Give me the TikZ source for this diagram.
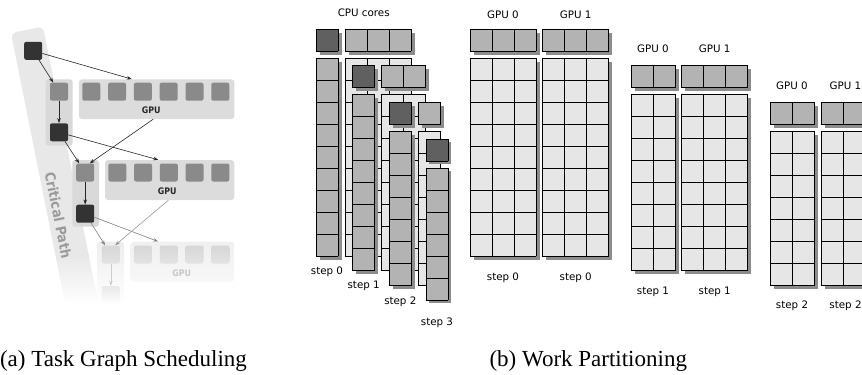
\documentclass[tikz,border=0pt]{standalone}
\usepackage{fontspec}
\usepackage{graphicx}
\usetikzlibrary{calc,arrows.meta}
\newfontfamily\lblfont{DejaVu Sans}
\newfontfamily\capfont{Liberation Serif}
\newcommand\mylblf{\lblfont\fontsize{10.3bp}{12bp}\selectfont}
\newcommand\mycapf{\capfont\fontsize{23bp}{27bp}\selectfont}
\newcommand\mycpf{\lblfont\bfseries\fontsize{14bp}{16bp}\selectfont}
\newcommand\myglf{\lblfont\bfseries\fontsize{9bp}{10bp}\selectfont}
\definecolor{bandc}{HTML}{E8E8E8}
\definecolor{grpc}{HTML}{D9D9D9}
\definecolor{gboxc}{HTML}{DCDCDC}
\definecolor{msqc}{HTML}{8A8A8A}
\definecolor{dsqc}{HTML}{333333}
\definecolor{cellm}{HTML}{B3B3B3}
\definecolor{celld}{HTML}{606060}
\definecolor{celll}{HTML}{E6E6E6}
\definecolor{shadc}{HTML}{8C8C8C}
\definecolor{cptext}{HTML}{9A9A9A}
\pgfdeclareverticalshading{bandshade}{100bp}{color(0bp)=(white); color(25bp)=(white); color(34bp)=(bandc); color(100bp)=(bandc)}
\newcommand\cellblk[6]{%
  \ifnum#6=1\relax
    \fill[shadc] ({#1+3.5},{#2+3.5}) rectangle ({#1+3.5+#3*22},{#2+3.5+#4*22});
  \fi
  \fill[#5] (#1,#2) rectangle ({#1+#3*22},{#2+#4*22});
  \foreach \ci in {0,...,#3} {\draw[gridln] ({#1+\ci*22},#2) -- ({#1+\ci*22},{#2+#4*22});}
  \foreach \cj in {0,...,#4} {\draw[gridln] (#1,{#2+\cj*22}) -- ({#1+#3*22},{#2+\cj*22});}
}
\begin{document}
\begin{tikzpicture}[x=1bp,y=-1bp,
  gridln/.style={line width=0.9bp, line cap=rect, draw=black},
  sqb/.style={minimum size=18bp, inner sep=0, rounded corners=2bp, draw=none},
  dsq/.style={sqb, fill=dsqc},
  msq/.style={sqb, fill=msqc},
  grp/.style={fill=grpc, rounded corners=3bp, inner sep=0, draw=none},
  gbox/.style={fill=gboxc, rounded corners=3bp, inner sep=0, draw=none},
  conn/.style={-{Stealth[length=5bp,width=3.6bp]}, line width=0.6bp, draw=black!85},
  fconn/.style={conn, draw=black!50},
  ffconn/.style={conn, draw=black!20},
  lbl/.style={font=\mylblf, inner sep=0, anchor=base},
  glbl/.style={font=\myglf, inner sep=0, anchor=base, text=black!85},
  caplbl/.style={font=\mycapf, inner sep=0, anchor=base}]
\useasboundingbox (0,0) rectangle (862,374);

% ---------- (a) task graph ----------
\shade[shading=bandshade, rounded corners=5bp] (65.4,305) -- (11,33) -- (43,26.6) -- (98.7,305) -- cycle;
\node[rotate=-78.7, text=cptext, font=\mycpf, inner sep=0] (cp) at (58.3,215) {\scalebox{0.9}[1]{Critical Path}};

\node[dsq] (t0) at (33.2,50.8) {};
\node[grp, minimum width=27bp, minimum height=66.4bp] (grp1) at (59.2,112.5) {};
\node[msq] (m1) at (59,91.7) {};
\node[dsq] (d1) at (59,132.3) {};
\node[gbox, minimum width=155.3bp, minimum height=39.7bp] (gpu1) at (156.65,99.15) {};
\foreach \i in {0,...,5} {\node[msq] (s1\i) at ({91.3+25.8*\i},91.7) {};}
\node[glbl] (gl1) at (151.2,113.5) {\scalebox{0.88}[1]{GPU}};

\node[grp, minimum width=26.7bp, minimum height=66.7bp] (grp2) at (85.65,193.35) {};
\node[msq] (m2) at (85.2,172.5) {};
\node[dsq] (d2) at (85.2,213.7) {};
\node[gbox, minimum width=129.3bp, minimum height=40bp] (gpu2) at (169.65,180) {};
\foreach \i in {0,...,4} {\node[msq] (s2\i) at ({117.3+25.75*\i},172.5) {};}
\node[glbl] (gl2) at (167.3,194.5) {\scalebox{0.88}[1]{GPU}};

\node[rounded corners=3bp, inner sep=0, top color=black!7, bottom color=white, minimum width=26.7bp, minimum height=62bp] (grp3) at (110.65,272.7) {};
\node[rounded corners=3bp, inner sep=0, top color=black!6, bottom color=black!3, minimum width=103.6bp, minimum height=40bp] (gpu3) at (182.5,261.7) {};
\node[sqb, top color=black!16, bottom color=black!11] (m3) at (110.85,254.5) {};
\foreach \i in {0,...,3} {\node[sqb, top color=black!16, bottom color=black!11] (s3\i) at ({143+25.77*\i},254.5) {};}
\node[glbl, text=black!22] (gl3) at (181.7,276) {\scalebox{0.88}[1]{GPU}};
\node[sqb, top color=black!9, bottom color=white] (m4) at (110.85,295) {};

\coordinate (g1top) at ($(gpu1.north west)!0.34!(gpu1.north east)$);
\coordinate (g2top) at ($(gpu2.north west)!0.412!(gpu2.north east)$);
\coordinate (g3top) at ($(gpu3.north west)!0.266!(gpu3.north east)$);
\coordinate (g1bot) at ($(gpu1.south west)!0.478!(gpu1.south east)$);
\coordinate (g2bot) at ($(gpu2.south west)!0.49!(gpu2.south east)$);
\coordinate (m2in) at ($(m2.north west)!0.75!(m2.north east)$);
\coordinate (m3in) at ($(m3.north west)!0.73!(m3.north east)$);
\draw[conn] (t0) -- (g1top);
\draw[conn] (t0) -- (m1);
\draw[conn] (m1) -- (d1);
\draw[conn] (d1) -- (g2top);
\draw[conn] (d1) -- (m2);
\draw[conn] (g1bot) -- (m2in);
\draw[conn] (m2) -- (d2);
\draw[fconn] (d2) -- (g3top);
\draw[fconn] (d2) -- (m3);
\draw[fconn, draw=black!40] (g2bot) -- (m3in);
\draw[ffconn] (m3) -- (m4);

% ---------- (b) CPU cores ----------
\node[lbl] (cpul) at (363.7,16.3) {CPU cores};
\cellblk{316}{29}{1}{1}{celld}{1}
\cellblk{345}{29}{3}{1}{cellm}{1}
\cellblk{316}{58}{1}{9}{cellm}{1}
\cellblk{345}{58}{3}{9}{celll}{0}
\cellblk{352.65}{65.65}{1}{1}{celld}{1}
\cellblk{381.65}{65.65}{2}{1}{cellm}{1}
\cellblk{352.65}{94.65}{1}{8}{cellm}{1}
\cellblk{381.65}{94.65}{2}{8}{celll}{0}
\cellblk{389.3}{102.3}{1}{1}{celld}{1}
\cellblk{418.3}{102.3}{1}{1}{cellm}{1}
\cellblk{389.3}{131.3}{1}{7}{cellm}{1}
\cellblk{418.3}{131.3}{1}{7}{celll}{0}
\cellblk{425.95}{138.95}{1}{1}{celld}{1}
\cellblk{425.95}{167.95}{1}{6}{cellm}{1}
\node[lbl] (cs0) at (327,274) {step 0};
\node[lbl] (cs1) at (363.65,288.7) {step 1};
\node[lbl] (cs2) at (400.3,304.3) {step 2};
\node[lbl] (cs3) at (436.95,325) {step 3};

% ---------- (b) GPUs ----------
\node[lbl] (ga0) at (503,18.3) {GPU 0};
\node[lbl] (ga1) at (575.7,18.3) {GPU 1};
\cellblk{470}{29}{3}{1}{cellm}{1}
\cellblk{470}{58}{3}{9}{celll}{1}
\cellblk{542.7}{29}{3}{1}{cellm}{1}
\cellblk{542.7}{58}{3}{9}{celll}{1}
\node[lbl] (sa0) at (503,280) {step 0};
\node[lbl] (sa1) at (575.7,280) {step 0};

\node[lbl] (gb0) at (653,52.7) {GPU 0};
\node[lbl] (gb1) at (714.7,52.7) {GPU 1};
\cellblk{631}{65.65}{2}{1}{cellm}{1}
\cellblk{631}{94.65}{2}{8}{celll}{1}
\cellblk{681.7}{65.65}{3}{1}{cellm}{1}
\cellblk{681.7}{94.65}{3}{8}{celll}{1}
\node[lbl] (sb0) at (653,294) {step 1};
\node[lbl] (sb1) at (714.7,294) {step 1};

\node[lbl] (gc0) at (792,89.3) {GPU 0};
\node[lbl] (gc1) at (845.5,89.3) {GPU 1};
\cellblk{770}{102.3}{2}{1}{cellm}{1}
\cellblk{770}{131.3}{2}{7}{celll}{1}
\cellblk{821}{102.3}{3}{1}{cellm}{1}
\cellblk{821}{131.3}{3}{7}{celll}{1}
\node[lbl] (sc0) at (792,308.3) {step 2};
\node[lbl] (sc1) at (845.5,308.3) {step 2};

% ---------- captions ----------
\node[caplbl] (capa) at (123.5,366) {(a) Task Graph Scheduling};
\node[caplbl] (capb) at (588.3,366) {(b) Work Partitioning};
\end{tikzpicture}
\end{document}
